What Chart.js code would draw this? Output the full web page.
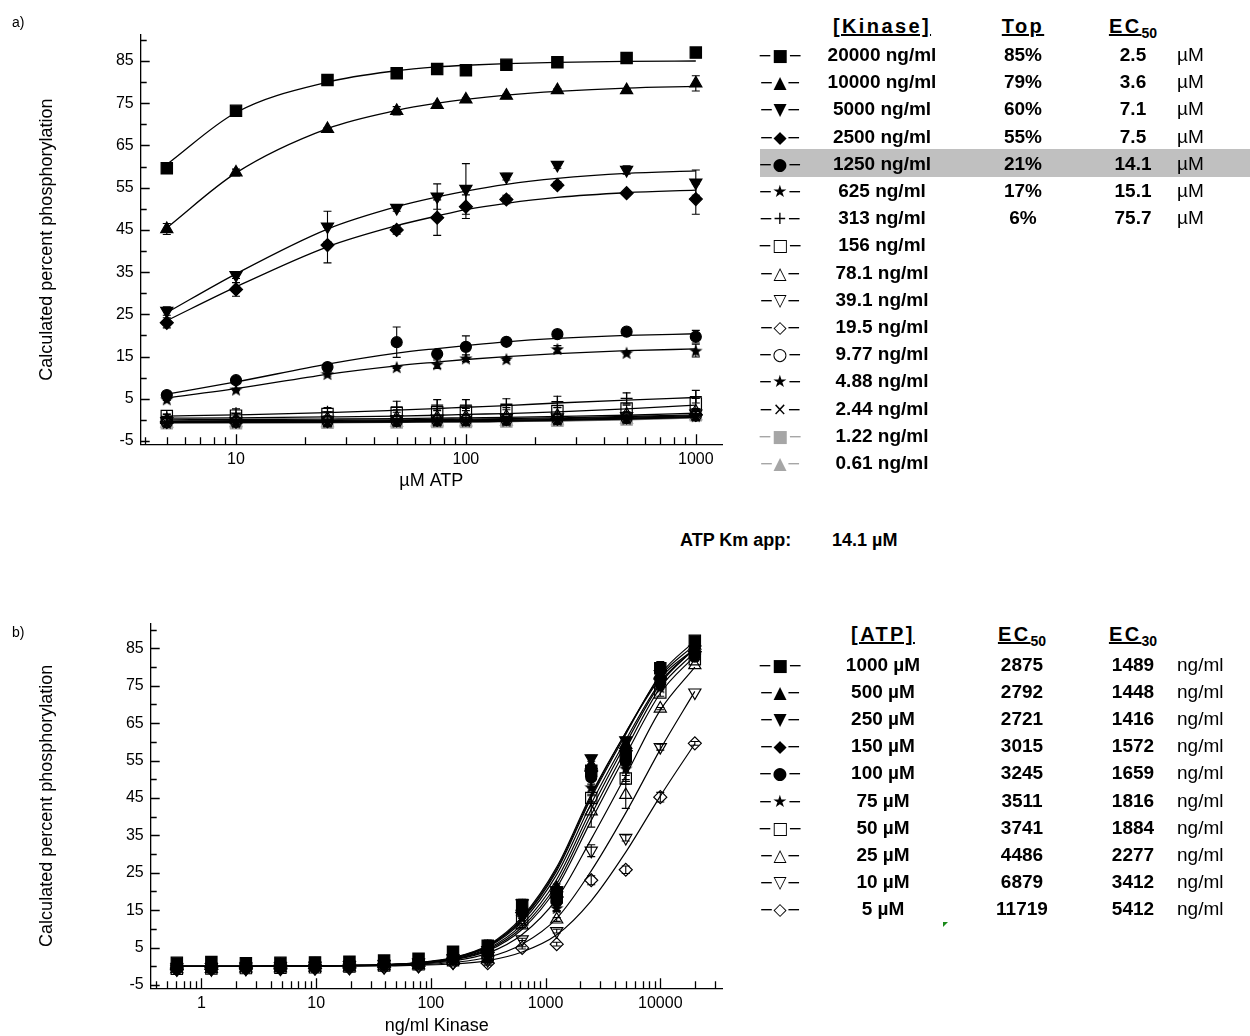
<!DOCTYPE html>
<html>
<head>
<meta charset="utf-8">
<script src="https://cdn.jsdelivr.net/npm/chart.js@4.4.1/dist/chart.umd.min.js"></script>
<style>
  html, body { margin: 0; padding: 0; background: #fff; overflow: hidden; width: 1250px; height: 1036px; }
  body { position: relative; font-family: "Liberation Sans", Arial, sans-serif; color: #000; }
  .abs { position: absolute; white-space: nowrap; }
  .row { font-weight: bold; font-size: 19px; line-height: 24px; text-align: center; }
  .unit { font-size: 19px; line-height: 24px; }
  .head { font-weight: bold; font-size: 20px; line-height: 24px; text-align: center; }
  .head u { letter-spacing: 2.4px; }
  .head sub { font-size: 14px; letter-spacing: 0; }
  .mk { font-family: "DejaVu Sans", sans-serif; font-size: 17px; line-height: 24px; text-align: center; }
  #hl { position: absolute; left: 760px; top: 149px; width: 490px; height: 28px; background: #c0c0c0; }
  #green { position: absolute; left: 943px; top: 922px; width: 0; height: 0;
           border-top: 5px solid #1a8a1a; border-right: 5px solid transparent; }
</style>
</head>
<body>
<div id="hl"></div>
<canvas id="chartA" class="abs" width="740" height="500" style="left:0;top:0"></canvas>
<canvas id="chartB" class="abs" width="740" height="450" style="left:0;top:600px"></canvas>
<div class="abs" style="left:12px;top:14px;font-size:14px">a)</div>
<div class="abs" style="left:12px;top:624px;font-size:14px">b)</div>
<div class="abs" style="left:680px;top:530px;font-size:18px;font-weight:bold">ATP Km app:</div>
<div class="abs" style="left:832px;top:530px;font-size:18px;font-weight:bold">14.1 µM</div>
<div id="green"></div>
<div id="legends"></div>
<script>
// ATP concentrations (µM) and kinase concentrations (ng/ml)
const atpConc = [5, 10, 25, 50, 75, 100, 150, 250, 500, 1000];
const kinaseConc = [20000, 10000, 5000, 2500, 1250, 625, 313, 156, 78.1, 39.1, 19.5, 9.77, 4.88, 2.44, 1.22, 0.61];
const kinaseLabels = ['20000 ng/ml', '10000 ng/ml', '5000 ng/ml', '2500 ng/ml', '1250 ng/ml', '625 ng/ml', '313 ng/ml',
  '156 ng/ml', '78.1 ng/ml', '39.1 ng/ml', '19.5 ng/ml', '9.77 ng/ml', '4.88 ng/ml', '2.44 ng/ml', '1.22 ng/ml', '0.61 ng/ml'];
const kinaseTop = ['85%', '79%', '60%', '55%', '21%', '17%', '6%'];
const kinaseEC50 = ['2.5', '3.6', '7.1', '7.5', '14.1', '15.1', '75.7'];

// measured % phosphorylation, one row per kinase conc, columns follow atpConc
const phos = [
  [59.6, 73.2, 80.5, 82.1, 83.1, 82.8, 84.1, 84.7, 85.7, 87.0],
  [45.2, 58.6, 68.9, 73.2, 74.6, 75.9, 76.8, 78.1, 78.1, 79.7],
  [25.8, 34.3, 45.8, 50.2, 52.9, 54.7, 57.6, 60.4, 59.2, 56.2],
  [23.0, 30.9, 41.4, 45.0, 47.9, 50.5, 52.2, 55.6, 53.7, 52.3],
  [5.9, 9.4, 12.5, 18.4, 15.6, 17.3, 18.5, 20.3, 20.9, 19.7],
  [4.9, 7.2, 10.9, 12.5, 13.2, 14.6, 14.4, 16.8, 15.9, 16.4],
  [0.8, 1.6, 1.9, 3.1, 3.5, 3.5, 3.7, 4.3, 5.1, 5.5],
  [0.9, 1.0, 1.4, 1.6, 1.8, 1.9, 2.1, 2.1, 2.7, 3.9],
  [0.0, 0.1, 0.3, 0.5, 0.6, 0.7, 0.8, 1.0, 1.3, 2.0],
  [-0.3, -0.2, 0.0, 0.2, 0.3, 0.4, 0.5, 0.6, 0.9, 1.5],
  [-0.5, -0.4, -0.3, -0.1, 0.0, 0.1, 0.2, 0.3, 0.6, 1.2],
  [-0.6, -0.5, -0.4, -0.3, -0.2, -0.1, 0.0, 0.1, 0.4, 1.0],
  [-0.7, -0.6, -0.5, -0.4, -0.3, -0.3, -0.2, 0.0, 0.3, 0.9],
  [-0.7, -0.7, -0.6, -0.5, -0.4, -0.4, -0.3, -0.1, 0.2, 0.8],
  [-0.8, -0.8, -0.7, -0.6, -0.5, -0.5, -0.4, -0.2, 0.1, 1.1],
  [-0.9, -0.8, -0.8, -0.7, -0.6, -0.6, -0.5, -0.3, 0.0, 0.9]
];
// error bar half-heights, same layout as phos
const phosErr = [
  [0.5, 0, 0, 0.5, 0.5, 0, 0, 0, 0, 0],
  [1.3, 0.8, 0.3, 1.0, 0.5, 0.3, 0.3, 0.3, 0.3, 1.8],
  [1.0, 0.8, 3.6, 0.8, 3.0, 6.0, 0.8, 0.8, 1.0, 3.0],
  [1.2, 1.6, 4.2, 1.0, 4.2, 2.8, 1.0, 0.8, 0.3, 3.6],
  [0.5, 0.5, 0.5, 3.6, 0.8, 2.6, 0.3, 0.3, 0.3, 1.5],
  [0.3, 0.3, 0.5, 0.3, 1.0, 0.8, 0.3, 0.8, 0.3, 1.5],
  [0.5, 1.0, 1.0, 1.3, 1.3, 1.3, 1.3, 1.3, 1.3, 1.5],
  [0.5, 0.5, 0.5, 0.8, 0.8, 0.8, 0.8, 0.8, 0.8, 1.2],
  [0, 0, 0, 0, 0, 0, 0, 0, 0, 0.5],
  [0, 0, 0, 0, 0, 0, 0, 0, 0, 0.5],
  [0, 0, 0, 0, 0, 0, 0, 0, 0, 0],
  [0, 0, 0, 0, 0, 0, 0, 0, 0, 0],
  [0, 0, 0, 0, 0, 0, 0, 0, 0, 0],
  [0, 0, 0, 0, 0, 0, 0, 0, 0, 0],
  [0, 0, 0, 0, 0, 0, 0, 0, 0, 0],
  [0, 0, 0, 0, 0, 0, 0, 0, 0, 0]
];
// fitted curves of panel a, read at each atpConc
const fitA = [
  [60.5, 72.8, 80.0, 82.7, 83.6, 84.0, 84.4, 84.7, 84.9, 85.0],
  [45.5, 58.5, 69.0, 73.3, 75.0, 75.9, 76.9, 77.8, 78.6, 79.0],
  [25.4, 34.6, 45.2, 50.5, 52.8, 54.2, 55.8, 57.2, 58.4, 59.0],
  [23.5, 31.5, 41.0, 46.0, 48.3, 49.8, 51.3, 52.7, 53.8, 54.4],
  [6.1, 9.0, 13.2, 15.8, 16.9, 17.6, 18.5, 19.3, 20.0, 20.4],
  [5.2, 7.4, 10.8, 12.8, 13.7, 14.3, 15.0, 15.7, 16.4, 16.8],
  [0.9, 1.2, 1.7, 2.3, 2.7, 3.0, 3.4, 4.0, 4.7, 5.3],
  [0.4, 0.5, 0.7, 0.9, 1.1, 1.3, 1.5, 1.9, 2.6, 3.5],
  [0.0, 0.1, 0.2, 0.3, 0.4, 0.5, 0.6, 0.8, 1.1, 1.6],
  [-0.3, -0.2, -0.1, 0.0, 0.1, 0.2, 0.3, 0.5, 0.8, 1.2],
  [-0.4, -0.4, -0.3, -0.2, -0.1, 0.0, 0.1, 0.3, 0.6, 1.0],
  [-0.5, -0.5, -0.4, -0.3, -0.2, -0.2, -0.1, 0.1, 0.4, 0.8],
  [-0.6, -0.6, -0.5, -0.4, -0.3, -0.3, -0.2, 0.0, 0.3, 0.7],
  [-0.6, -0.6, -0.5, -0.5, -0.4, -0.4, -0.3, -0.1, 0.2, 0.6],
  [-0.7, -0.7, -0.6, -0.6, -0.5, -0.5, -0.4, -0.2, 0.1, 0.6],
  [-0.8, -0.7, -0.7, -0.6, -0.6, -0.5, -0.4, -0.3, 0.0, 0.5]
];

// panel b series (ATP) and its fitted curves read at each kinase conc (ascending)
const atpSeries = [1000, 500, 250, 150, 100, 75, 50, 25, 10, 5];
const atpLabels = ['1000 µM', '500 µM', '250 µM', '150 µM', '100 µM', '75 µM', '50 µM', '25 µM', '10 µM', '5 µM'];
const atpEC50 = ['2875', '2792', '2721', '3015', '3245', '3511', '3741', '4486', '6879', '11719'];
const atpEC30 = ['1489', '1448', '1416', '1572', '1659', '1816', '1884', '2277', '3412', '5412'];
const kinaseAsc = [0.61, 1.22, 2.44, 4.88, 9.77, 19.5, 39.1, 78.1, 156, 313, 625, 1250, 2500, 5000, 10000, 20000];
const fitB = [
  [0, 0, 0, 0.1, 0.1, 0.2, 0.4, 0.9, 2.2, 5.3, 12.5, 25.5, 45.0, 62.0, 78.0, 87.0],
  [0, 0, 0, 0.1, 0.1, 0.2, 0.4, 0.9, 2.2, 5.4, 12.8, 26.0, 45.5, 62.5, 77.5, 86.0],
  [0, 0, 0, 0.1, 0.1, 0.2, 0.4, 1.0, 2.3, 5.6, 13.2, 26.5, 46.0, 62.5, 77.0, 85.0],
  [0, 0, 0, 0.1, 0.1, 0.2, 0.4, 0.9, 2.1, 5.1, 12.0, 24.5, 43.5, 60.5, 76.0, 85.0],
  [0, 0, 0, 0, 0.1, 0.2, 0.4, 0.8, 1.9, 4.7, 11.2, 23.2, 42.0, 59.5, 75.5, 85.0],
  [0, 0, 0, 0, 0.1, 0.2, 0.3, 0.8, 1.8, 4.4, 10.5, 22.0, 40.5, 58.0, 74.5, 84.0],
  [0, 0, 0, 0, 0.1, 0.2, 0.3, 0.7, 1.7, 4.1, 9.9, 21.0, 39.0, 56.5, 73.0, 83.0],
  [0, 0, 0, 0, 0.1, 0.1, 0.3, 0.6, 1.4, 3.5, 8.5, 18.0, 34.0, 51.0, 68.5, 80.0],
  [0, 0, 0, 0, 0, 0.1, 0.2, 0.4, 1.0, 2.4, 5.9, 12.8, 25.5, 41.0, 58.0, 73.5],
  [0, 0, 0, 0, 0, 0.1, 0.1, 0.3, 0.6, 1.5, 3.8, 8.4, 17.5, 30.5, 45.5, 59.5]
];

// axis ticks
const yTicks = [-5, 0, 5, 10, 15, 20, 25, 30, 35, 40, 45, 50, 55, 60, 65, 70, 75, 80, 85, 90];
const yLabels = [-5, 5, 15, 25, 35, 45, 55, 65, 75, 85];
const xTicksA = [4, 5, 6, 7, 8, 9, 10, 20, 30, 40, 50, 60, 70, 80, 90, 100, 200, 300, 400, 500, 600, 700, 800, 900, 1000];
const xLabelsA = [10, 100, 1000];
const xTicksB = [0.4, 0.5, 0.6, 0.7, 0.8, 0.9, 1, 2, 3, 4, 5, 6, 7, 8, 9, 10, 20, 30, 40, 50, 60, 70, 80, 90,
  100, 200, 300, 400, 500, 600, 700, 800, 900, 1000, 2000, 3000, 4000, 5000, 6000, 7000, 8000, 9000, 10000, 20000, 30000];
const xLabelsB = [1, 10, 100, 1000, 10000];

const kinaseMarker = ['sq', 'tri', 'dtri', 'dia', 'cir', 'star', 'plus', 'osq', 'otri', 'odtri', 'odia', 'ocir', 'star', 'x', 'gsq', 'gtri'];
const kinaseGlyph = ['■', '▲', '▼', '◆', '●', '★', '+', '□', '△', '▽', '◇', '○', '★', '×', '■', '▲'];
const atpMarker = ['sq', 'tri', 'dtri', 'dia', 'cir', 'star', 'osq', 'otri', 'odtri', 'odia'];
const atpGlyph = ['■', '▲', '▼', '◆', '●', '★', '□', '△', '▽', '◇'];

const GRAY = '#a6a6a6';

function starImg(size, color) {
  const c = document.createElement('canvas');
  c.width = c.height = size;
  const g = c.getContext('2d');
  g.fillStyle = color;
  g.beginPath();
  for (let k = 0; k < 10; k++) {
    const r = k % 2 ? size * 0.21 : size / 2;
    const a = -Math.PI / 2 + k * Math.PI / 5;
    g.lineTo(size / 2 + r * Math.cos(a), size / 2 + r * Math.sin(a) + size * 0.05);
  }
  g.closePath();
  g.fill();
  return c;
}
const star = starImg(14, '#000');

function markerProps(code) {
  const open = code[0] === 'o';
  const gray = code[0] === 'g';
  const shape = (open || gray) ? code.slice(1) : code;
  const col = gray ? GRAY : '#000';
  const p = {
    pointBackgroundColor: open ? 'rgba(0,0,0,0)' : col,
    pointBorderColor: col,
    pointBorderWidth: 1.2,
    pointRotation: 0
  };
  if (shape === 'sq') { p.pointStyle = 'rect'; p.pointRadius = 8; }
  if (shape === 'tri') { p.pointStyle = 'triangle'; p.pointRadius = 7; }
  if (shape === 'dtri') { p.pointStyle = 'triangle'; p.pointRadius = 7; p.pointRotation = 180; }
  if (shape === 'dia') { p.pointStyle = 'rectRot'; p.pointRadius = 6.5; }
  if (shape === 'cir') { p.pointStyle = 'circle'; p.pointRadius = 5.5; }
  if (shape === 'star') { p.pointStyle = star; p.pointRadius = 7; }
  if (shape === 'plus') { p.pointStyle = 'cross'; p.pointRadius = 6; p.pointBorderWidth = 1.3; }
  if (shape === 'x') { p.pointStyle = 'crossRot'; p.pointRadius = 6; p.pointBorderWidth = 1.3; }
  return p;
}

// inward tick marks drawn from the scales
const innerTicks = {
  id: 'innerTicks',
  afterDraw(chart) {
    const { ctx, chartArea, scales } = chart;
    ctx.save();
    ctx.strokeStyle = '#000';
    ctx.lineWidth = 1.3;
    ctx.beginPath();
    scales.x.ticks.forEach(t => {
      const px = Math.round(scales.x.getPixelForValue(t.value)) + 0.5;
      const len = t.label ? 10 : 7;
      ctx.moveTo(px, chartArea.bottom);
      ctx.lineTo(px, chartArea.bottom - len);
    });
    scales.y.ticks.forEach(t => {
      const py = Math.round(scales.y.getPixelForValue(t.value)) + 0.5;
      const len = t.label ? 9 : 6;
      ctx.moveTo(chartArea.left, py);
      ctx.lineTo(chartArea.left + len, py);
    });
    ctx.stroke();
    ctx.restore();
  }
};

const errorBars = {
  id: 'errorBars',
  afterDatasetsDraw(chart) {
    const ctx = chart.ctx, ys = chart.scales.y;
    ctx.save();
    ctx.strokeStyle = '#000';
    ctx.lineWidth = 1.1;
    chart.data.datasets.forEach((ds, i) => {
      if (!ds.errors) return;
      chart.getDatasetMeta(i).data.forEach((pt, j) => {
        const e = ds.errors[j];
        if (!e) return;
        const v = ds.data[j].y;
        const top = ys.getPixelForValue(v + e), bot = ys.getPixelForValue(v - e);
        ctx.beginPath();
        ctx.moveTo(pt.x, top); ctx.lineTo(pt.x, bot);
        ctx.moveTo(pt.x - 4, top); ctx.lineTo(pt.x + 4, top);
        ctx.moveTo(pt.x - 4, bot); ctx.lineTo(pt.x + 4, bot);
        ctx.stroke();
      });
    });
    ctx.restore();
  }
};

function scales(o) {
  return {
    x: {
      type: 'logarithmic', min: o.xMin, max: o.xMax,
      grid: { display: false, drawTicks: false },
      border: { color: '#000', width: 1.3 },
      afterBuildTicks: s => { s.ticks = o.xTicks.map(v => ({ value: v })); },
      afterFit: s => { s.height = o.xHeight; },
      ticks: {
        autoSkip: false, maxRotation: 0, padding: 6, color: '#000',
        font: { family: '"Liberation Sans", Arial', size: 16 },
        callback: v => o.xLabels.includes(v) ? String(v) : ''
      },
      title: {
        display: true, text: o.xTitle, color: '#000',
        font: { family: '"Liberation Sans", Arial', size: 18 },
        padding: { top: 0, bottom: o.xTitlePad }
      }
    },
    y: {
      min: o.yMin, max: o.yMax,
      grid: { display: false, drawTicks: false },
      border: { color: '#000', width: 1.3 },
      afterBuildTicks: s => { s.ticks = yTicks.map(v => ({ value: v })); },
      afterFit: s => { s.width = o.yWidth; },
      ticks: {
        autoSkip: false, padding: 7, color: '#000',
        font: { family: '"Liberation Sans", Arial', size: 16 },
        callback: v => yLabels.includes(v) ? String(v) : ''
      },
      title: {
        display: true, text: 'Calculated percent phosphorylation', color: '#000',
        font: { family: '"Liberation Sans", Arial', size: 18 },
        padding: { top: 36, bottom: 0 }
      }
    }
  };
}

// panel a: x = ATP, one series per kinase conc
const dsA = [];
kinaseConc.forEach((k, i) => {
  dsA.push({
    data: atpConc.map((a, j) => ({ x: a, y: fitA[i][j] })),
    showLine: true, borderColor: kinaseMarker[i][0] === 'g' ? '#777' : '#000', borderWidth: 1.3,
    pointRadius: 0, cubicInterpolationMode: 'monotone', fill: false
  });
  dsA.push(Object.assign({
    data: atpConc.map((a, j) => ({ x: a, y: phos[i][j] })),
    showLine: false, errors: phosErr[i]
  }, markerProps(kinaseMarker[i])));
});

new Chart(document.getElementById('chartA'), {
  type: 'scatter',
  data: { datasets: dsA },
  options: {
    responsive: false, animation: false, events: [],
    layout: { padding: { left: 0, top: 35, right: 18, bottom: 0 } },
    plugins: { legend: { display: false }, tooltip: { enabled: false } },
    scales: scales({ xMin: 3.85, xMax: 1300, xTicks: xTicksA, xLabels: xLabelsA, xTitle: 'µM ATP',
      xHeight: 55.7, xTitlePad: 8, yMin: -5.78, yMax: 91.16, yWidth: 140.7 })
  },
  plugins: [innerTicks, errorBars]
});

// panel b: x = kinase conc, one series per ATP conc (same measurements)
const dsB = [];
atpSeries.forEach((a, s) => {
  const j = atpConc.indexOf(a);
  dsB.push({
    data: kinaseAsc.map((k, i) => ({ x: k, y: fitB[s][i] })),
    showLine: true, borderColor: '#000', borderWidth: 1.2,
    pointRadius: 0, cubicInterpolationMode: 'monotone', fill: false
  });
  const rows = kinaseAsc.map(k => kinaseConc.indexOf(k));
  dsB.push(Object.assign({
    data: kinaseAsc.map((k, i) => ({ x: k, y: phos[rows[i]][j] })),
    showLine: false, errors: rows.map(r => phosErr[r][j])
  }, markerProps(atpMarker[s])));
});

new Chart(document.getElementById('chartB'), {
  type: 'scatter',
  data: { datasets: dsB },
  options: {
    responsive: false, animation: false, events: [],
    layout: { padding: { left: 0, top: 23.3, right: 17.3, bottom: 0 } },
    plugins: { legend: { display: false }, tooltip: { enabled: false } },
    scales: scales({ xMin: 0.361, xMax: 35000, xTicks: xTicksB, xLabels: xLabelsB, xTitle: 'ng/ml Kinase',
      xHeight: 61.7, xTitlePad: 13, yMin: -5.9, yMax: 91.7, yWidth: 150.7 })
  },
  plugins: [innerTicks, errorBars]
});

// legend tables
const box = document.getElementById('legends');
function cell(html, cls, cx, cy, opts) {
  const d = document.createElement('div');
  d.className = 'abs ' + cls;
  d.innerHTML = html;
  d.style.top = (cy - 12) + 'px';
  if (opts && opts.left) d.style.left = cx + 'px';
  else { d.style.left = (cx - 100) + 'px'; d.style.width = '200px'; }
  if (opts && opts.color) d.style.color = opts.color;
  box.appendChild(d);
}
cell('<u>[Kinase]</u>', 'head', 882, 26);
cell('<u>Top</u>', 'head', 1023, 26);
cell('<u>EC<sub>50</sub></u>', 'head', 1133, 26);
kinaseLabels.forEach((lab, i) => {
  const cy = 55 + i * 27.2;
  const gray = kinaseMarker[i][0] === 'g';
  cell('−' + kinaseGlyph[i] + '−', 'mk', 780, cy, { color: gray ? GRAY : '#000' });
  cell(lab, 'row', 882, cy);
  if (i < kinaseTop.length) {
    cell(kinaseTop[i], 'row', 1023, cy);
    cell(kinaseEC50[i], 'row', 1133, cy);
    cell('µM', 'unit', 1177, cy, { left: true });
  }
});
cell('<u>[ATP]</u>', 'head', 883, 634);
cell('<u>EC<sub>50</sub></u>', 'head', 1022, 634);
cell('<u>EC<sub>30</sub></u>', 'head', 1133, 634);
atpLabels.forEach((lab, i) => {
  const cy = 665 + i * 27.1;
  cell('−' + atpGlyph[i] + '−', 'mk', 780, cy);
  cell(lab, 'row', 883, cy);
  cell(atpEC50[i], 'row', 1022, cy);
  cell(atpEC30[i], 'row', 1133, cy);
  cell('ng/ml', 'unit', 1177, cy, { left: true });
});
</script>
</body>
</html>
